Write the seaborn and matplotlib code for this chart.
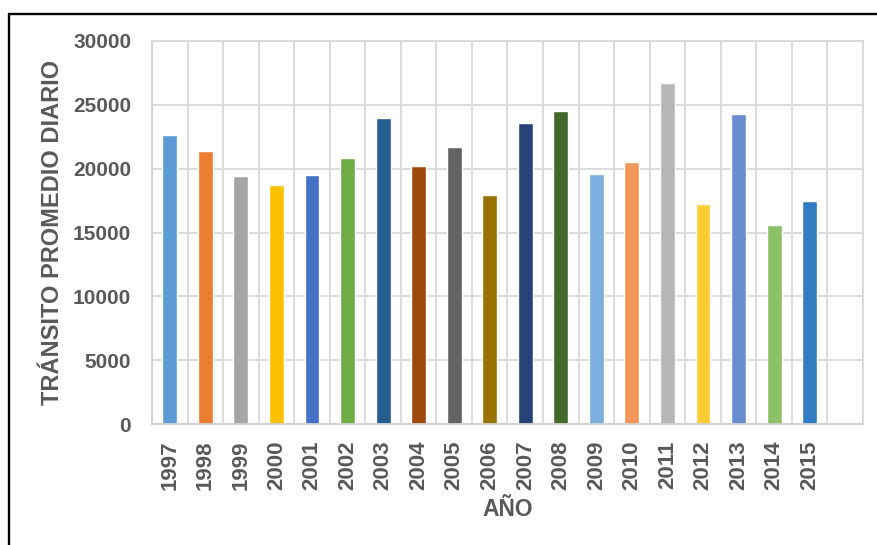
import matplotlib
matplotlib.use("Agg")
import matplotlib.pyplot as plt
from matplotlib.lines import Line2D
from matplotlib.ticker import FixedLocator
import seaborn as sns
import pandas as pd

# Average daily traffic per year
years = ["1997", "1998", "1999", "2000", "2001", "2002", "2003", "2004", "2005", "2006",
         "2007", "2008", "2009", "2010", "2011", "2012", "2013", "2014", "2015"]
traffic = [22600, 21400, 19400, 18700, 19500, 20800, 24000, 20200, 21700, 17900,
           23600, 24500, 19600, 20500, 26700, 17200, 24300, 15600, 17500]
bar_colors = ["#5B9BD5", "#ED7D31", "#A5A5A5", "#FFC000", "#4472C4", "#70AD47", "#255E91",
              "#9E480E", "#636363", "#997300", "#264478", "#43682B", "#7CAFDD", "#F1975A",
              "#B7B7B7", "#FFCD33", "#698ED0", "#8CC168", "#327DC2"]
y_ticks = [0, 5000, 10000, 15000, 20000, 25000, 30000]

df = pd.DataFrame({"year": years, "traffic": traffic})

sns.set_theme(style="white")
plt.rcParams["font.family"] = ["Liberation Sans", "DejaVu Sans"]

text_color = "#595959"
grid_color = "#D9D9D9"

fig = plt.figure(figsize=(8.78, 5.45), dpi=100)
ax = fig.add_axes([152 / 878, (545 - 424) / 545, (863 - 152) / 878, (424 - 41) / 545])

sns.barplot(data=df, x="year", y="traffic", hue="year", palette=bar_colors,
            order=years, width=0.42, legend=False, saturation=1, ax=ax)

# one spare category slot after the last year
ax.set_xlim(-0.5, len(years) + 0.5)
ax.set_ylim(0, 30000)
ax.yaxis.set_major_locator(FixedLocator(y_ticks))
ax.xaxis.set_minor_locator(FixedLocator([i - 0.5 for i in range(len(years) + 2)]))

ax.grid(False)
ax.grid(axis="y", which="major", color=grid_color, linewidth=1.3)
ax.grid(axis="x", which="minor", color=grid_color, linewidth=1.3)
ax.set_axisbelow(True)
for side in ["left", "right", "top", "bottom"]:
    ax.spines[side].set_visible(True)
    ax.spines[side].set_color(grid_color)
    ax.spines[side].set_linewidth(1.3)
ax.spines["bottom"].set_color("#D0D0D0")
ax.spines["left"].set_color("#D0D0D0")

ax.tick_params(axis="both", which="both", length=0)
ax.tick_params(axis="y", pad=15, labelsize=15, labelcolor=text_color)
ax.tick_params(axis="x", pad=12, labelsize=16, labelcolor=text_color, labelrotation=90)
for lbl in ax.get_xticklabels() + ax.get_yticklabels():
    lbl.set_fontweight("bold")

ax.set_xlabel("AÑO", fontsize=16.5, fontweight="bold", color=text_color)
ax.set_ylabel("TRÁNSITO PROMEDIO DIARIO", fontsize=17, fontweight="bold", color=text_color)
ax.xaxis.set_label_coords((508 - 152) / 711, (424 - 509) / 383)
ax.xaxis.label.set_va("center")
ax.yaxis.set_label_coords((53 - 152) / 711, 0.5)
ax.yaxis.label.set_va("center")

# outer frame lines on top and left
fig.add_artist(Line2D([9 / 878, 1.0], [1 - 14 / 545, 1 - 14 / 545],
                      transform=fig.transFigure, color="black", linewidth=1.7))
fig.add_artist(Line2D([9 / 878, 9 / 878], [0.0, 1 - 14 / 545],
                      transform=fig.transFigure, color="black", linewidth=1.7))

fig.savefig("out.png", dpi=100, facecolor="white")
